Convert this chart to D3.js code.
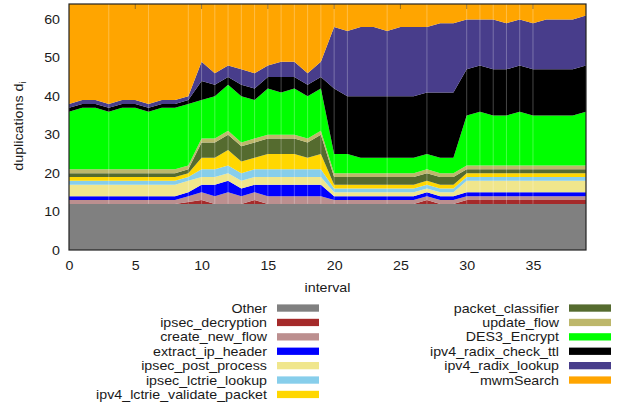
<!DOCTYPE html>
<html>
<head>
<meta charset="utf-8">
<script src="https://cdn.jsdelivr.net/npm/d3@7"></script>
<style>
body{margin:0;background:#fff}
text{font-family:"Liberation Sans",Arial,Helvetica,sans-serif;fill:#1a1a1a}
</style>
</head>
<body>
<script>
// x categories (intervals) and ticks
const intervals = [0,1,2,3,4,5,6,7,8,9,10,11,12,13,14,15,16,17,18,19,20,21,22,23,24,25,26,27,28,29,30,31,32,33,34,35,36,37,38,39];
const xTicks = [0,5,10,15,20,25,30,35];
const yTicks = [0,10,20,30,40,50,60];

// series, bottom to top
const other        = [12,12,12,12,12,12,12,12,12,12,12,12,12,12,12,12,12,12,12,12,12,12,12,12,12,12,12,12,12,12,12,12,12,12,12,12,12,12,12,12];
const ipsecDecrypt = [0,0,0,0,0,0,0,0,0,0.5,1,0,0,0,1,0,0,0,0,0,0,0,0,0,0,0,0,1,0,0,1,1,1,1,1,1,1,1,1,1];
const createFlow   = [1,1,1,1,1,1,1,1,1,1.5,2,2,3,2,2,2,2,2,2,2,1,1,1,1,1,1,1,1,1,1,1,1,1,1,1,1,1,1,1,1];
const extractIp    = [1,1,1,1,1,1,1,1,1,1,2,3,3,2,2,3,3,3,3,3,1,1,1,1,1,1,1,1,1,1,1,1,1,1,1,1,1,1,1,1];
const ipsecPost    = [3,3,3,3,3,3,3,3,3,3,2,2,2,2,2,2,2,2,2,2,1,1,1,1,1,1,1,1,1,1,3,3,3,3,3,3,3,3,3,3];
const ipsecLctrie  = [1,1,1,1,1,1,1,1,1,1,2,2,2,2,2,2,2,2,2,2,1,1,1,1,1,1,1,1,1,1,1,1,1,1,1,1,1,1,1,1];
const validatePkt  = [1,1,1,1,1,1,1,1,1,1,3,3,4,3,3,4,4,4,3,4,1,1,1,1,1,1,1,1,1,1,1,1,1,1,1,1,1,1,1,1];
const pktClassify  = [1,1,1,1,1,1,1,1,1,1,4,4,4,4,4,4,4,4,4,5,2,2,2,2,2,2,2,2,2,2,1,1,1,1,1,1,1,1,1,1];
const updateFlow   = [1,1,1,1,1,1,1,1,1,1,1,1,1,1,1,1,1,1,1,1,1,1,1,1,1,1,1,1,1,1,1,1,1,1,1,1,1,1,1,1];
const des3         = [15,16,16,15,16,16,15,16,16,16,10,11,12,12,10,12,11,12,11,11,5,5,4,4,4,4,4,4,4,4,13,14,13,13,14,13,13,13,13,14];
const checkTtl     = [1,1,1,1,1,1,1,1,1,1,5,3,2,3,3,3,4,3,3,3,17,15,16,16,16,16,16,16,17,17,12,12,12,12,12,12,12,12,12,12];
const radixLookup  = [1,1,1,1,1,1,1,1,1,1,5,3,3,4,4,3,4,4,3,4,16,17,18,18,17,18,18,17,18,18,13,12,13,12,12,12,13,13,13,13];
const mwmSearch    = [26,25,25,26,25,25,26,25,25,24,15,18,16,17,18,16,15,15,18,15,6,7,6,6,7,6,6,6,5,5,4,4,4,5,4,5,4,4,4,3];

const names  = ["Other","ipsec_decryption","create_new_flow","extract_ip_header","ipsec_post_process",
                "ipsec_lctrie_lookup","ipv4_lctrie_validate_packet","packet_classifier","update_flow",
                "DES3_Encrypt","ipv4_radix_check_ttl","ipv4_radix_lookup","mwmSearch"];
const series = [other,ipsecDecrypt,createFlow,extractIp,ipsecPost,ipsecLctrie,validatePkt,
                pktClassify,updateFlow,des3,checkTtl,radixLookup,mwmSearch];
const colors = ["#808080","#a52a2a","#bc8f8f","#0000ff","#f0e68c","#87ceeb","#ffd700",
                "#556b2f","#bdb76b","#00ff00","#000000","#483d8b","#ffa500"];
// polygon seams visible in the original rendering
const seams = [3,6,9,10,11,12,13,14,15,16,17,18,19,20,21,24,27,30,31,32,33,34,35];

const w = 628, h = 410;
const stretch = 1.13;   // the original font runs wider than Arial

const rows = intervals.map(function(d,i){
  const r = {interval:d};
  names.forEach(function(n,k){ r[n] = series[k][i]; });
  return r;
});

const xScale = d3.scaleLinear().domain([0,39]).range([69,586]);
const yScale = d3.scaleLinear().domain([0,64]).range([250,4]);

const svg = d3.select("body").append("svg")
  .attr("width",w)
  .attr("height",h);

svg.append("clipPath").attr("id","plot")
  .append("rect")
  .attr("x",xScale(0)).attr("y",yScale(64))
  .attr("width",xScale(39)-xScale(0)).attr("height",yScale(0)-yScale(64));

const stacked = d3.stack().keys(names)(rows);

const area = d3.area()
  .x(function(d){ return xScale(d.data.interval); })
  .y0(function(d){ return yScale(d[0]); })
  .y1(function(d){ return yScale(d[1]); });

const plot = svg.append("g").attr("clip-path","url(#plot)");

plot.selectAll("path.layer")
  .data(stacked)
  .enter()
  .append("path")
  .attr("class","layer")
  .attr("d",area)
  .attr("fill",function(d,i){ return colors[i]; });

plot.selectAll("line.seam")
  .data(seams)
  .enter()
  .append("line")
  .attr("class","seam")
  .attr("x1",function(d){ return xScale(d); })
  .attr("x2",function(d){ return xScale(d); })
  .attr("y1",function(d){ return yScale(other[d]); })
  .attr("y2",yScale(64))
  .attr("stroke","#fff")
  .attr("stroke-opacity",0.35)
  .attr("stroke-width",0.8);

// mirrored x ticks on the top edge
svg.selectAll("line.toptick")
  .data(xTicks.slice(1))
  .enter()
  .append("line")
  .attr("x1",function(d){ return xScale(d); })
  .attr("x2",function(d){ return xScale(d); })
  .attr("y1",yScale(64))
  .attr("y2",yScale(64)+5)
  .attr("stroke","#333")
  .attr("stroke-opacity",0.5);

svg.append("rect")
  .attr("x",xScale(0)).attr("y",yScale(64))
  .attr("width",xScale(39)-xScale(0)).attr("height",yScale(0)-yScale(64))
  .attr("fill","none")
  .attr("stroke","#222")
  .attr("stroke-width",1.2);

const xAxis = d3.axisBottom(xScale).tickValues(xTicks).tickSize(0).tickPadding(11);
const yAxis = d3.axisLeft(yScale).tickValues(yTicks).tickSize(0).tickPadding(8);

svg.append("g")
  .attr("transform","translate(0,"+yScale(0)+")")
  .call(xAxis)
  .call(function(g){ g.select(".domain").remove(); });

svg.append("g")
  .attr("transform","translate("+xScale(0)+",0)")
  .call(yAxis)
  .call(function(g){ g.select(".domain").remove(); });

svg.selectAll(".tick text")
  .attr("font-family","Liberation Sans, Arial, sans-serif")
  .attr("font-size",12.6)
  .attr("fill","#1a1a1a")
  .attr("transform","scale("+stretch+",1)");

svg.append("text")
  .attr("transform","translate("+(xScale(0)+xScale(39))/2+",292) scale("+stretch+",1)")
  .attr("text-anchor","middle")
  .attr("font-size",12.6)
  .text("interval");

const ylab = svg.append("text")
  .attr("transform","translate(22.5,126) rotate(-90) scale("+stretch+",1)")
  .attr("text-anchor","middle")
  .attr("font-size",12.6)
  .text("duplications d");
ylab.append("tspan")
  .attr("dy",3)
  .attr("font-size",9)
  .text("i");

// legend: two columns
const legend = svg.selectAll("g.legend")
  .data(names)
  .enter()
  .append("g")
  .attr("class","legend")
  .attr("transform",function(d,i){
    const col = i < 7 ? 0 : 1;
    const row = i < 7 ? i : i - 7;
    return "translate(" + (col ? 559 : 267) + "," + (308 + row*14.4) + ")";
  });

legend.append("text")
  .attr("transform","translate(0,4.5) scale("+stretch+",1)")
  .attr("text-anchor","end")
  .attr("font-size",12.6)
  .text(function(d){ return d; });

legend.append("rect")
  .attr("x",10)
  .attr("y",-3.6)
  .attr("width",42)
  .attr("height",7.3)
  .attr("fill",function(d,i){ return colors[i]; });
</script>
</body>
</html>
